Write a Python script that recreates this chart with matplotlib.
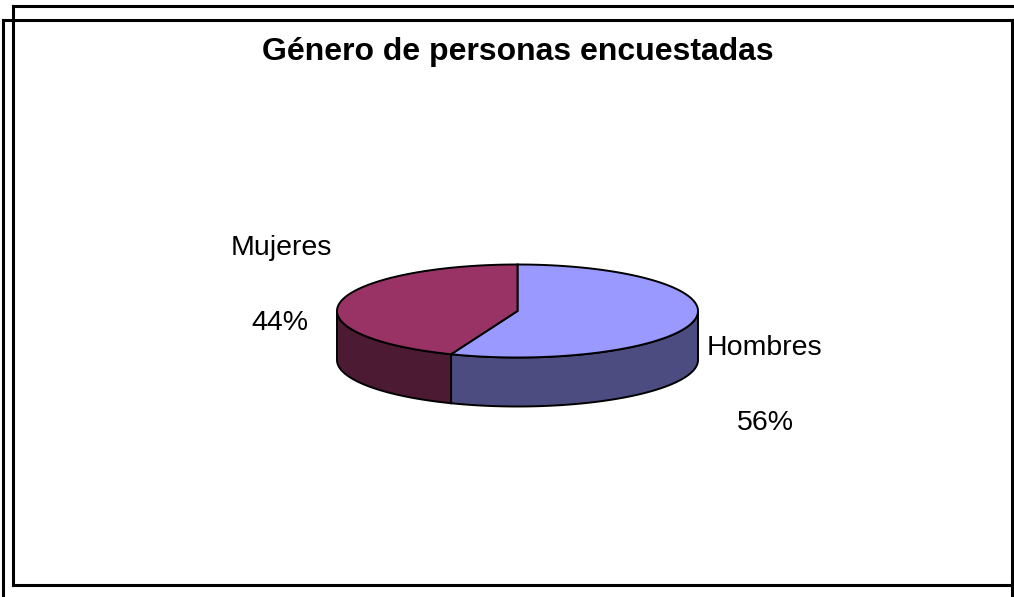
"""3D-style pie: género de personas encuestadas."""

import numpy as np
import matplotlib
matplotlib.use("Agg")
import matplotlib.pyplot as plt
from matplotlib.patches import Polygon

plt.rcParams["font.family"] = ["Liberation Sans", "DejaVu Sans"]

title = "Género de personas encuestadas"
labels = ["Hombres", "Mujeres"]
values = [56, 44]
pct_labels = ["56%", "44%"]
top_colors = ["#9999FF", "#993366"]
side_colors = ["#4C4C80", "#4D1A33"]

W, H = 1014, 597
fig = plt.figure(figsize=(W / 100, H / 100), dpi=100)
ax = fig.add_axes([0, 0, 1, 1])
ax.set_xlim(0, W)
ax.set_ylim(H, 0)
ax.axis("off")

# the two overlapping frames (pixel coords)
lw = 2.2
ax.plot([13, W], [6, 6], color="black", lw=lw)
ax.plot([13, 13], [6, 585], color="black", lw=lw)
ax.plot([13, W], [585, 585], color="black", lw=lw)
ax.plot([3, 1012], [20, 20], color="black", lw=lw)
ax.plot([3, 3], [20, H], color="black", lw=lw)
ax.plot([1012, 1012], [20, H], color="black", lw=lw)

ax.text(517.5, 52, title, ha="center", va="center", fontsize=23,
        fontweight="bold")

# pie geometry
cx, cy, rx, ry, depth = 517.5, 311, 180.5, 46.5, 49


def pt(theta_deg, dy=0.0):
    t = np.radians(theta_deg)
    return cx + rx * np.cos(t), cy - ry * np.sin(t) + dy


# slices go clockwise from 12 o'clock
fracs = np.array(values, dtype=float) / sum(values)
start = 90.0
spans = []
for f in fracs:
    end = start - 360 * f
    spans.append((end, start))
    start = end

# visible side walls (lower half of ellipse: angles 180..360)
for (a0, a1), col in zip(spans, side_colors):
    for off in (-360, 0, 360):
        lo = max(a0 + off, 180)
        hi = min(a1 + off, 360)
        if hi <= lo:
            continue
        th = np.linspace(lo, hi, 80)
        xs, ys = pt(th)
        xb, yb = pt(th[::-1], depth)
        poly = np.column_stack([np.r_[xs, xb], np.r_[ys, yb]])
        ax.add_patch(Polygon(poly, closed=True, facecolor=col,
                             edgecolor="black", lw=1.4, zorder=2))

# top faces
for (a0, a1), col in zip(spans, top_colors):
    th = np.linspace(a0, a1, 200)
    xs, ys = pt(th)
    poly = np.column_stack([np.r_[cx, xs], np.r_[cy, ys]])
    ax.add_patch(Polygon(poly, closed=True, facecolor=col,
                         edgecolor="black", lw=1.4, zorder=3))

# labels
ax.text(764.5, 348, labels[0], ha="center", va="center", fontsize=20.5)
ax.text(765, 423, pct_labels[0], ha="center", va="center", fontsize=20.5)
ax.text(281, 248, labels[1], ha="center", va="center", fontsize=20.5)
ax.text(280, 323, pct_labels[1], ha="center", va="center", fontsize=20.5)

fig.savefig("out.png", dpi=100)
